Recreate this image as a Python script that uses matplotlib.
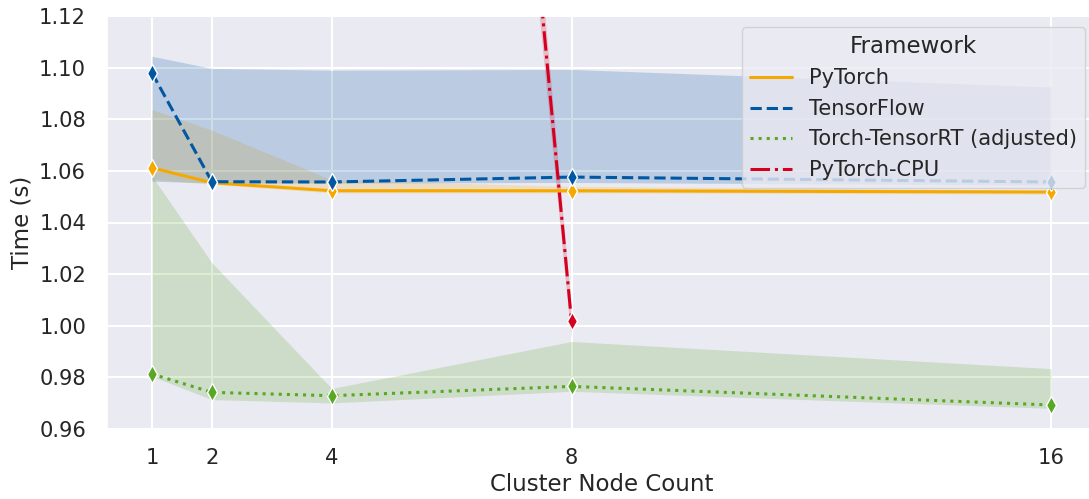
import numpy as np
import matplotlib
matplotlib.use("Agg")
import matplotlib.pyplot as plt
import seaborn as sns
from matplotlib.lines import Line2D

sns.set_theme(style="darkgrid", font_scale=1.375)
plt.rcParams['font.family'] = ['DejaVu Sans']
plt.rcParams['grid.linewidth'] = 1.5
plt.rcParams['xtick.major.pad'] = 8
plt.rcParams['ytick.major.pad'] = 9

# node counts and mean time per run (s)
nodes = [1, 2, 4, 8, 16]

pytorch = [1.0612, 1.0554, 1.0523, 1.0523, 1.0518]
pytorch_lo = [1.0568, 1.0548, 1.0515, 1.0515, 1.0510]
pytorch_hi = [1.0838, 1.0758, 1.0565, 1.0540, 1.0525]

tensorflow = [1.0980, 1.0558, 1.0557, 1.0576, 1.0557]
tensorflow_lo = [1.0560, 1.0553, 1.0553, 1.0555, 1.0545]
tensorflow_hi = [1.1044, 1.0997, 1.0990, 1.0993, 1.0925]

trt = [0.9813, 0.9742, 0.9729, 0.9765, 0.9693]
trt_lo = [0.9804, 0.9714, 0.9701, 0.9746, 0.9680]
trt_hi = [1.0580, 1.0244, 0.9757, 0.9939, 0.9834]

cpu_nodes = [4, 8]
cpu = [1.984, 1.0017]
cpu_lo = [1.935, 0.9950]
cpu_hi = [2.035, 1.0080]

series = [
    ("PyTorch", nodes, pytorch, pytorch_lo, pytorch_hi, "#F5A800", "-"),
    ("TensorFlow", nodes, tensorflow, tensorflow_lo, tensorflow_hi, "#0057A3", "--"),
    ("Torch-TensorRT (adjusted)", nodes, trt, trt_lo, trt_hi, "#58A823", ":"),
    ("PyTorch-CPU", cpu_nodes, cpu, cpu_lo, cpu_hi, "#D5001F", "-."),
]

fig = plt.figure(figsize=(10.89, 4.99), dpi=100)
ax = fig.add_axes([107 / 1089, 70 / 499, 989 / 1089, 413 / 499])

handles = []
for name, xs, ys, lo, hi, col, ls in series:
    ax.fill_between(xs, lo, hi, color=col, alpha=0.2, linewidth=0, zorder=1)
    ax.plot(xs, ys, color=col, linestyle=ls, linewidth=2.2, marker="d",
            markersize=9, markeredgecolor="white", markeredgewidth=1, zorder=2)
    handles.append(Line2D([], [], color=col, linestyle=ls, linewidth=2.2, label=name))

ax.set_xlim(0.25, 16.75)
ax.set_ylim(0.96, 1.12)
ax.set_xticks(nodes)
ax.set_xticklabels([str(n) for n in nodes])
yt = np.arange(0.96, 1.1201, 0.02)
ax.set_yticks(yt)
ax.set_yticklabels([f"{v:.2f}" for v in yt])
ax.set_xlabel("Cluster Node Count", labelpad=3)
ax.set_ylabel("Time (s)")

leg = ax.legend(handles=handles, title="Framework", loc="upper right")

fig.savefig("out.png", dpi=100)
